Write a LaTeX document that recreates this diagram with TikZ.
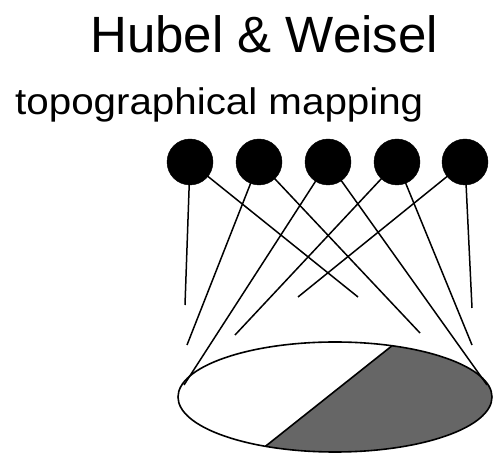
\documentclass[tikz,border=0pt]{standalone}
\usepackage{fontspec}
\setmainfont{Liberation Sans}
\usetikzlibrary{calc}
\tikzset{
  dot/.style={circle,fill=black,draw=black,minimum size=46pt,inner sep=0pt},
  wire/.style={line width=1.5pt,black},
  rim/.style={line width=1.6pt,black},
}
\begin{document}
\begin{tikzpicture}[x=1pt,y=1pt]
\useasboundingbox (0,0) rectangle (498,455);
% title texts
\node[anchor=base west,inner sep=0pt,font=\fontsize{51}{55}\selectfont] (title) at (90,402) {Hubel \& Weisel};
\node[anchor=base west,inner sep=0pt,xscale=1.09,font=\fontsize{37}{40}\selectfont] (sub) at (15,340) {topographical mapping};
% circle centres
\coordinate (p1) at (190,293);
\coordinate (p2) at (259,293);
\coordinate (p3) at (328,293);
\coordinate (p4) at (397,293);
\coordinate (p5) at (465,293);
% line ends
\coordinate (a1) at (185,150);
\coordinate (b1) at (358,158);
\coordinate (a2) at (187,110);
\coordinate (b2) at (420,122);
\coordinate (a3) at (184,70);
\coordinate (b3) at (487,70);
\coordinate (a4) at (235,120);
\coordinate (b4) at (472,110);
\coordinate (a5) at (472,147);
\coordinate (b5) at (298,158);
% ellipse
\coordinate (E) at (335,58);
\fill[black!60] ($(E)+(68.7:157 and 55)$) arc[start angle=68.7,end angle=-116.3,x radius=157,y radius=55] -- cycle;
\draw[rim] ($(E)+(68.7:157 and 55)$) -- ($(E)+(-116.3:157 and 55)$);
\draw[rim] (E) ellipse[x radius=157,y radius=55];
% wires
\draw[wire] (p1) -- (a1);
\draw[wire] (p1) -- (b1);
\draw[wire] (p2) -- (a2);
\draw[wire] (p2) -- (b2);
\draw[wire] (p3) -- (a3);
\draw[wire] (p3) -- (b3);
\draw[wire] (p4) -- (a4);
\draw[wire] (p4) -- (b4);
\draw[wire] (p5) -- (a5);
\draw[wire] (p5) -- (b5);
% cells
\node[dot] (c1) at (p1) {};
\node[dot] (c2) at (p2) {};
\node[dot] (c3) at (p3) {};
\node[dot] (c4) at (p4) {};
\node[dot] (c5) at (p5) {};
\end{tikzpicture}
\end{document}
